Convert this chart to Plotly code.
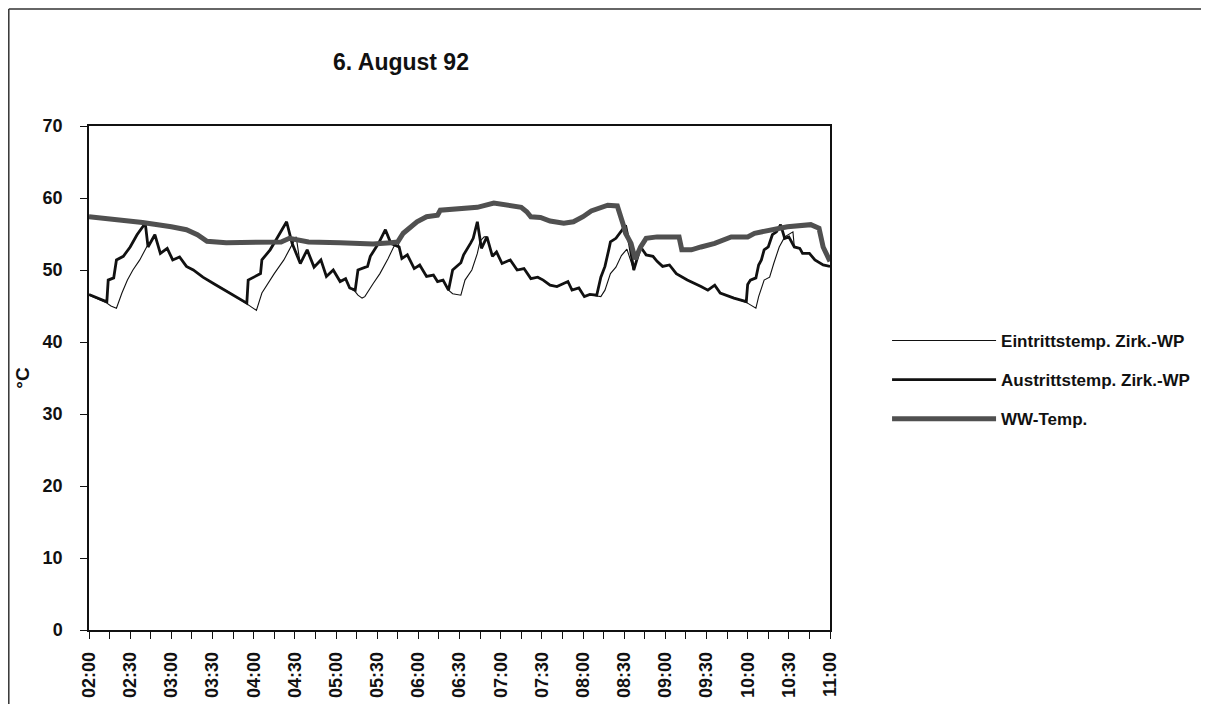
import plotly.graph_objects as go

DAY = "1992-08-06 "

# Austrittstemp. Zirk.-WP (outlet temperature)
aus_t = ["02:00","02:13","02:14","02:18","02:20","02:25","02:30","02:35","02:41","02:43","02:48","02:52","02:57",
         "03:01","03:06","03:11","03:16","03:23","03:31","03:43","03:55","03:56","04:05","04:06","04:12","04:17",
         "04:24","04:28","04:34","04:39","04:44","04:49","04:53","04:58","05:03","05:07","05:10","05:14","05:16",
         "05:23","05:25","05:31","05:36","05:40","05:46","05:48","05:52","05:57","06:01","06:06","06:11","06:14",
         "06:18","06:22","06:25","06:31","06:33","06:38","06:40","06:43","06:46","06:50","06:54","06:57","07:01",
         "07:07","07:12","07:17","07:22","07:27","07:31","07:36","07:41","07:49","07:52","07:57","08:01","08:05",
         "08:10","08:13","08:16","08:19","08:20","08:24","08:29","08:31","08:34","08:37","08:42","08:46","08:51",
         "08:54","08:58","09:03","09:08","09:16","09:26","09:31","09:36","09:40","09:50","09:59","10:00","10:02",
         "10:06","10:08","10:10","10:12","10:15","10:18","10:21","10:24","10:27","10:30","10:34","10:38","10:40",
         "10:45","10:49","10:55","11:00"]
aus_v = [46.6, 45.6, 48.6, 48.9, 51.4, 51.9, 53.2, 54.9, 56.5, 53.2, 54.9, 52.3, 53.0,
         51.4, 51.8, 50.5, 50.0, 49.0, 48.1, 46.8, 45.4, 48.6, 49.5, 51.4, 52.8, 54.4,
         56.7, 53.7, 50.9, 52.8, 50.4, 51.4, 49.1, 50.0, 48.4, 48.8, 47.5, 47.2, 50.0,
         50.5, 51.9, 53.7, 55.6, 53.7, 53.2, 51.6, 52.1, 50.2, 50.7, 49.1, 49.3, 48.4,
         48.6, 47.2, 50.0, 51.0, 52.1, 53.7, 54.4, 56.7, 53.0, 54.6, 51.9, 52.5, 50.9,
         51.4, 50.0, 50.2, 48.8, 49.0, 48.6, 47.9, 47.7, 48.4, 47.2, 47.5, 46.3, 46.6,
         46.5, 49.0, 50.5, 53.0, 53.9, 54.4, 55.6, 56.2, 53.5, 50.0, 53.2, 52.1, 51.9,
         51.2, 50.5, 50.7, 49.5, 48.6, 47.7, 47.2, 47.9, 46.8, 46.1, 45.6, 48.0, 48.6,
         48.9, 50.7, 51.4, 52.8, 53.2, 54.9, 55.3, 56.3, 54.4, 54.6, 53.2, 53.0, 52.3,
         52.3, 51.4, 50.7, 50.5]

# Eintrittstemp. Zirk.-WP (inlet temperature)
ein_t = ["02:00","02:13","02:16","02:20","02:24","02:28","02:32","02:37","02:42","02:46","02:48","02:52","02:57",
         "03:01","03:06","03:11","03:16","03:23","03:31","03:43","03:55","04:02","04:06","04:12","04:15","04:22",
         "04:27","04:31","04:33","04:34","04:39","04:44","04:49","04:53","04:58","05:03","05:07","05:10","05:14",
         "05:16","05:19","05:21","05:27","05:32","05:38","05:42","05:45","05:46","05:48","05:52","05:57","06:01",
         "06:06","06:11","06:14","06:18","06:22","06:25","06:31","06:34","06:39","06:43","06:45","06:48","06:50",
         "06:54","06:57","07:01","07:07","07:12","07:17","07:22","07:27","07:31","07:36","07:41","07:49","07:52",
         "07:57","08:01","08:05","08:10","08:13","08:16","08:18","08:20","08:24","08:28","08:32","08:37","08:42",
         "08:46","08:51","08:54","08:58","09:03","09:08","09:16","09:26","09:31","09:36","09:40","09:50","09:59",
         "10:06","10:08","10:12","10:16","10:19","10:23","10:27","10:33","10:34","10:38","10:40","10:45","10:49",
         "10:55","11:00"]
ein_v = [46.5, 45.4, 45.0, 44.7, 46.8, 48.6, 50.0, 51.4, 53.2, 54.2, 54.9, 52.3, 53.0,
         51.4, 51.8, 50.5, 50.0, 49.0, 48.1, 46.8, 45.3, 44.4, 46.8, 48.6, 49.5, 51.4,
         53.2, 54.6, 52.0, 50.9, 52.8, 50.4, 51.4, 49.1, 50.0, 48.4, 48.8, 47.5, 47.0,
         46.5, 46.1, 46.3, 48.1, 49.5, 51.6, 53.2, 53.9, 53.2, 51.6, 52.1, 50.2, 50.7,
         49.1, 49.3, 48.4, 48.6, 47.2, 46.7, 46.5, 48.6, 50.0, 52.3, 54.0, 54.6, 54.6,
         51.9, 52.5, 50.9, 51.4, 50.0, 50.2, 48.8, 49.0, 48.6, 47.9, 47.7, 48.4, 47.2,
         47.5, 46.3, 46.6, 46.4, 46.3, 47.2, 48.4, 49.5, 50.4, 52.0, 52.9, 50.0, 53.2,
         52.1, 51.9, 51.2, 50.5, 50.7, 49.5, 48.6, 47.7, 47.2, 47.9, 46.8, 46.1, 45.5,
         44.7, 46.3, 48.6, 49.0, 50.9, 53.2, 54.6, 55.3, 53.2, 53.0, 52.3, 52.3, 51.4,
         50.7, 50.5]

# WW-Temp. (hot water temperature)
ww_t = ["02:00","02:20","02:39","03:00","03:11","03:19","03:26","03:40","04:00","04:20","04:26","04:40","05:03",
        "05:27","05:40","05:45","05:49","05:54","05:59","06:06","06:14","06:16","06:33","06:43","06:55","07:05",
        "07:15","07:19","07:22","07:29","07:36","07:46","07:53","08:00","08:06","08:18","08:25","08:29","08:31",
        "08:35","08:38","08:42","08:46","08:54","09:10","09:12","09:19","09:26","09:36","09:48","10:00","10:05",
        "10:17","10:29","10:46","10:52","10:55","10:58","11:00"]
ww_v = [57.4, 57.0, 56.6, 56.0, 55.6, 54.9, 54.0, 53.8, 53.8, 53.9, 54.4, 53.9, 53.8,
        53.6, 53.8, 53.9, 55.1, 56.0, 56.7, 57.4, 57.6, 58.3, 58.6, 58.7, 59.3, 59.0,
        58.7, 58.1, 57.4, 57.3, 56.8, 56.5, 56.7, 57.4, 58.2, 59.0, 58.9, 56.5, 55.1,
        53.7, 51.5, 53.2, 54.4, 54.6, 54.6, 52.8, 52.8, 53.2, 53.7, 54.6, 54.6, 55.1,
        55.6, 56.0, 56.3, 55.8, 53.2, 51.9, 51.2]

series_names = ["Eintrittstemp. Zirk.-WP", "Austrittstemp. Zirk.-WP", "WW-Temp."]
title_text = "6. August 92"
y_title = "°C"
y_ticks = [0, 10, 20, 30, 40, 50, 60, 70]
x_start, x_end = "02:00", "11:00"

FONT = "Liberation Sans, Arial, sans-serif"

# the page body has an 8px margin, so the figure is sized to fill the rest of the window
W, H = 1201, 696
L, R, T, B = 81, 379, 118, 74
PW, PH = W - L - R, H - T - B


def ts(lst):
    return [DAY + s + ":00" for s in lst]


fig = go.Figure()
fig.add_trace(go.Scatter(x=ts(ein_t), y=ein_v, mode="lines", name=series_names[0],
                         line=dict(color="#111111", width=1.1), legendgroup="a"))
fig.add_trace(go.Scatter(x=ts(aus_t), y=aus_v, mode="lines", name=series_names[1],
                         line=dict(color="#111111", width=2.8), legendgroup="b"))
fig.add_trace(go.Scatter(x=ts(ww_t), y=ww_v, mode="lines", name=series_names[2],
                         line=dict(color="#505050", width=5), legendgroup="c"))

xr = [DAY + x_start + ":00", DAY + x_end + ":00"]
tickfont = dict(family=FONT, size=18, color="#111111", weight="bold")

fig.update_layout(
    width=W, height=H,
    margin=dict(l=L, r=R, t=T, b=B, autoexpand=False),
    paper_bgcolor="white", plot_bgcolor="white",
    title=dict(text=title_text, x=393 / W, xanchor="center", y=1 - 54 / H, yanchor="middle",
               font=dict(family=FONT, size=23, color="#111111", weight="bold")),
    showlegend=True,
    legend=dict(x=1.077, y=0.496, xanchor="left", yanchor="middle", itemwidth=104,
                tracegroupgap=14, font=dict(family=FONT, size=17, color="#111111", weight="bold"),
                bgcolor="rgba(0,0,0,0)"),
    xaxis=dict(type="date", range=xr, tick0=xr[0], dtick=30 * 60 * 1000, tickformat="%H:%M",
               tickangle=-90, ticks="outside", ticklen=7, tickwidth=1, tickcolor="#111111",
               minor=dict(dtick=15 * 60 * 1000, ticks="outside", ticklen=7, tickwidth=1, tickcolor="#111111"),
               showline=True, linecolor="#111111", linewidth=1.5, mirror=True, automargin=False,
               showgrid=False, zeroline=False, tickfont=tickfont, ticklabelstandoff=6),
    xaxis2=dict(type="date", range=xr, overlaying="x", anchor="y", side="bottom", automargin=False,
                tick0=xr[0], dtick=15 * 60 * 1000, ticks="inside", ticklen=7, tickwidth=1,
                tickcolor="#111111", showticklabels=False, showgrid=False, zeroline=False, showline=False),
    yaxis=dict(range=[0, 70], tickvals=y_ticks, ticks="outside", ticklen=7, tickwidth=1, tickcolor="#111111",
               showline=True, linecolor="#111111", linewidth=1.5, mirror=True, automargin=False,
               showgrid=False, zeroline=False, tickfont=tickfont, ticklabelstandoff=14,
               title=dict(text=y_title, font=dict(family=FONT, size=19, color="#111111", weight="bold"),
                          standoff=8)),
    yaxis2=dict(range=[0, 70], overlaying="y", anchor="x", side="left", tickvals=y_ticks, automargin=False,
                ticks="inside", ticklen=7, tickwidth=1, tickcolor="#111111",
                showticklabels=False, showgrid=False, zeroline=False, showline=False),
)


# page frame (left and top border of the scanned sheet), in figure pixels
def px2paper_x(px):
    return (px - L) / PW


def px2paper_y(py):
    return (H - B - py) / PH


fig.add_shape(type="line", xref="paper", yref="paper", x0=px2paper_x(0.8), x1=px2paper_x(0.8),
              y0=px2paper_y(1), y1=px2paper_y(H), line=dict(color="#333333", width=1.5))
fig.add_shape(type="line", xref="paper", yref="paper", x0=px2paper_x(0.8), x1=px2paper_x(1198),
              y0=px2paper_y(1), y1=px2paper_y(1), line=dict(color="#333333", width=1.5))

fig.write_html("out.html")
